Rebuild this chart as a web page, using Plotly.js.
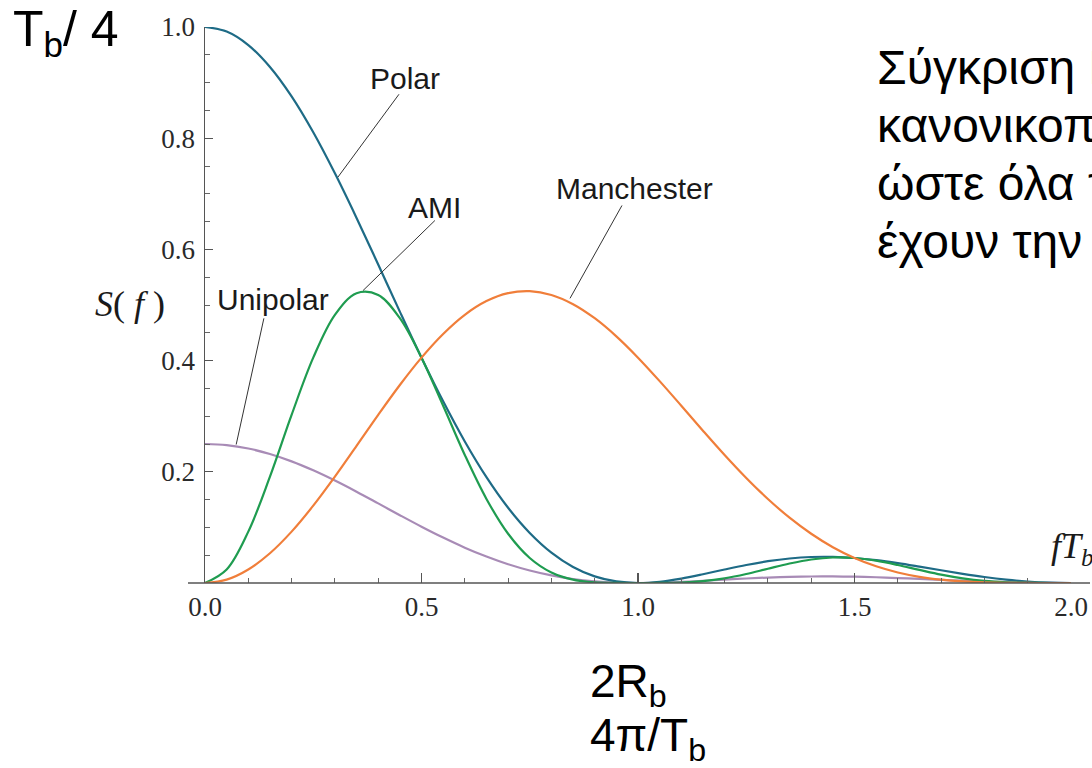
<!DOCTYPE html>
<html>
<head>
<meta charset="utf-8">
<script src="https://cdn.plot.ly/plotly-3.0.1.min.js"></script>
<style>html,body{margin:0;padding:0;background:#fff;}#chart{width:1092px;height:768px;}</style>
</head>
<body>
<div id="chart"></div>
<script>
// fT_b values (x axis)
const fT = [0,0.05,0.1,0.15,0.2,0.25,0.3,0.35,0.4,0.45,0.5,0.55,0.6,0.65,0.7,0.75,0.8,0.85,0.9,0.95,1.0,1.05,1.1,1.15,1.2,1.25,1.3,1.35,1.4,1.45,1.5,1.55,1.6,1.65,1.7,1.75,1.8,1.85,1.9,1.95,2.0];
const polar = [1,0.9918,0.9675,0.9281,0.8752,0.8106,0.7368,0.6566,0.5728,0.4881,0.4053,0.3268,0.2546,0.1904,0.1353,0.0901,0.0547,0.0289,0.0119,0.0028,0,0.0022,0.0080,0.0158,0.0243,0.0324,0.0392,0.0441,0.0468,0.0470,0.0450,0.0411,0.0358,0.0295,0.0229,0.0165,0.0108,0.0061,0.0027,0.0007,0];
const unipolar = [0.25,0.2479,0.2419,0.2320,0.2188,0.2026,0.1842,0.1642,0.1432,0.1220,0.1013,0.0817,0.0636,0.0476,0.0338,0.0225,0.0137,0.0072,0.0030,0.0007,0,0.0006,0.0020,0.0039,0.0061,0.0081,0.0098,0.0110,0.0117,0.0118,0.0113,0.0103,0.0089,0.0074,0.0057,0.0041,0.0027,0.0015,0.0007,0.0002,0];
const ami = [0,0.0243,0.0924,0.1913,0.3024,0.4053,0.4823,0.5213,0.5181,0.4762,0.4053,0.3188,0.2303,0.1512,0.0886,0.0450,0.0189,0.0060,0.0011,0.0001,0,0.0001,0.0008,0.0033,0.0084,0.0162,0.0257,0.0350,0.0423,0.0459,0.0450,0.0401,0.0324,0.0235,0.0150,0.0083,0.0037,0.0013,0.0003,0,0];
const manchester = [0,0.0061,0.0243,0.0535,0.0924,0.1391,0.1913,0.2466,0.3024,0.3561,0.4053,0.4479,0.4823,0.5070,0.5213,0.5249,0.5181,0.5015,0.4762,0.4436,0.4053,0.3631,0.3188,0.2740,0.2303,0.1890,0.1511,0.1175,0.0886,0.0644,0.0450,0.0300,0.0189,0.0111,0.0060,0.0028,0.0011,0.0004,0.0001,0,0];

const xTickVals = [0,0.5,1.0,1.5,2.0];
const xTickText = ["0.0","0.5","1.0","1.5","2.0"];
const yTickVals = [0.2,0.4,0.6,0.8,1.0];
const yTickText = ["0.2","0.4","0.6","0.8","1.0"];

// curve labels: [text, textX, textY, lineStartX, lineStartY, curveX, curveY]
const labels = [
  ["Polar", 0.462, 0.908, 0.448, 0.879, 0.307, 0.730],
  ["AMI", 0.531, 0.676, 0.531, 0.652, 0.365, 0.526],
  ["Manchester", 0.993, 0.710, 0.963, 0.679, 0.843, 0.512],
  ["Unipolar", 0.157, 0.510, 0.136, 0.476, 0.072, 0.249]
];

const greekLines = ["Σύγκριση PSD", "κανονικοποιημένων", "ώστε όλα τα σήματα να", "έχουν την ίδια ισχύ"];

// layout geometry (pixels)
const L = 205, R = 21, T = 27, B = 185, W = 1092, H = 768;
const pw = W - L - R, ph = H - T - B;
const px = v => (v - L) / pw;
const py = v => (H - B - v) / ph;

const sans = "Liberation Sans, Arial, sans-serif";
const serif = "Liberation Serif, Times New Roman, serif";

const lineW = 2.2;
const traces = [
  {x: fT, y: unipolar, name: "Unipolar", color: "#a88bb6"},
  {x: fT, y: polar, name: "Polar", color: "#1e6b86"},
  {x: fT, y: ami, name: "AMI", color: "#1f9c50"},
  {x: fT, y: manchester, name: "Manchester", color: "#f07e3a"}
].map(t => ({x: t.x, y: t.y, name: t.name, type: "scatter", mode: "lines",
  line: {color: t.color, width: lineW, shape: "spline", smoothing: 1}, hoverinfo: "skip"}));

const annotations = [];
const shapes = [];
labels.forEach(l => {
  annotations.push({x: l[1], y: l[2], xref: "x", yref: "y", text: l[0], showarrow: false,
    xanchor: "center", yanchor: "middle", font: {family: sans, size: 30, color: "#1a1a1a"}});
  shapes.push({type: "line", xref: "x", yref: "y", x0: l[3], y0: l[4], x1: l[5], y1: l[6],
    line: {color: "#333", width: 1}});
});
// extended x-axis baseline
shapes.push({type: "line", xref: "paper", yref: "paper", x0: px(188), x1: px(1090), y0: 0, y1: 0,
  line: {color: "#555", width: 1.5}});

// axis-ish labels
annotations.push({x: px(11), y: py(32), xref: "paper", yref: "paper", xanchor: "left", yanchor: "middle",
  showarrow: false, text: "T<sub>b</sub>/ 4", font: {family: sans, size: 50, color: "#000"}});
annotations.push({x: px(130), y: py(304), xref: "paper", yref: "paper", xanchor: "center", yanchor: "middle",
  showarrow: false, text: "<i>S</i>( <i>f</i> )", font: {family: serif, size: 36, color: "#1a1a1a"}});
annotations.push({x: px(1049), y: py(548), xref: "paper", yref: "paper", xanchor: "left", yanchor: "middle",
  showarrow: false, text: "<i>fT<sub>b</sub></i>", font: {family: serif, size: 36, color: "#1a1a1a"}});
annotations.push({x: px(588), y: py(684), xref: "paper", yref: "paper", xanchor: "left", yanchor: "middle",
  showarrow: false, text: "2R<sub>b</sub>", font: {family: sans, size: 46, color: "#000"}});
annotations.push({x: px(588), y: py(738), xref: "paper", yref: "paper", xanchor: "left", yanchor: "middle",
  showarrow: false, text: "4π/T<sub>b</sub>", font: {family: sans, size: 46, color: "#000"}});
const greekY = [67, 125, 183, 241];
greekLines.forEach((g, i) => {
  annotations.push({x: px(875), y: py(greekY[i]), xref: "paper", yref: "paper", xanchor: "left", yanchor: "middle",
    showarrow: false, text: g, font: {family: sans, size: 48, color: "#000"}});
});

const layout = {
  width: W, height: H,
  margin: {l: L, r: R, t: T, b: B, pad: 0},
  paper_bgcolor: "#fff", plot_bgcolor: "#fff",
  showlegend: false,
  xaxis: {range: [0, 2], tickvals: xTickVals, ticktext: xTickText, ticks: "inside", ticklen: 10,
    tickwidth: 1.2, tickcolor: "#555", showline: false, showgrid: false, zeroline: false,
    tickfont: {family: serif, size: 27, color: "#2a2a2a"}, ticklabelstandoff: 5,
    minor: {dtick: 0.1, tick0: 0, ticks: "inside", ticklen: 5, tickwidth: 1, tickcolor: "#666", showgrid: false}},
  yaxis: {range: [0, 1], tickvals: yTickVals, ticktext: yTickText, ticks: "inside", ticklen: 8,
    tickwidth: 1.2, tickcolor: "#555", showline: true, linecolor: "#555", linewidth: 1.5,
    showgrid: false, zeroline: false, tickfont: {family: serif, size: 27, color: "#2a2a2a"}, ticklabelstandoff: 3,
    minor: {dtick: 0.05, tick0: 0, ticks: "inside", ticklen: 5, tickwidth: 1, tickcolor: "#666", showgrid: false}},
  annotations: annotations,
  shapes: shapes
};

Plotly.newPlot("chart", traces, layout, {displayModeBar: false, staticPlot: true});
</script>
</body>
</html>
